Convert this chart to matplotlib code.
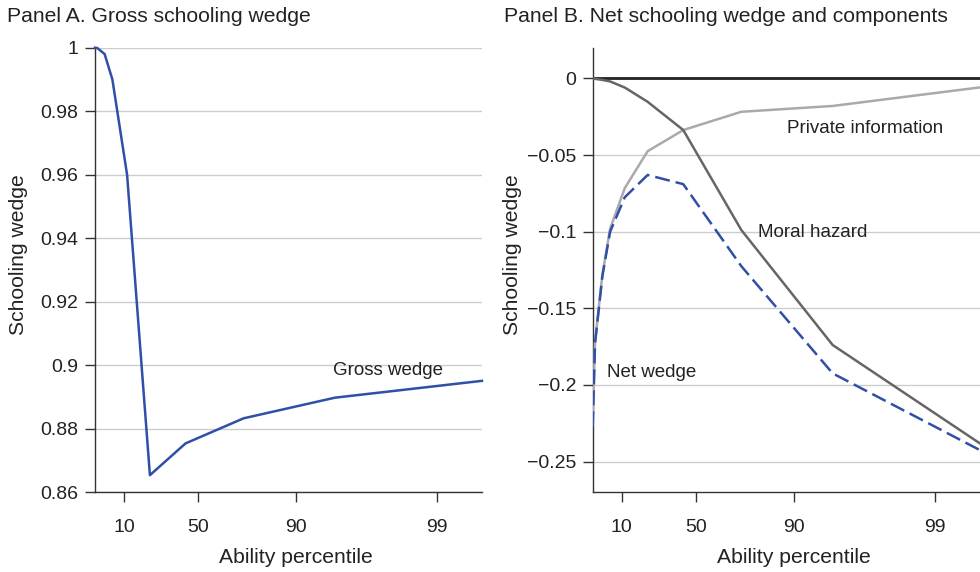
import matplotlib.pyplot as plt

plt.rcParams['font.family'] = ['Liberation Sans', 'DejaVu Sans']
plt.rcParams['font.size'] = 14

# ability grid (position along the ability axis, 0 = lowest, 1 = highest)
ability = [0, 0.006, 0.025, 0.045, 0.083, 0.142, 0.234, 0.384, 0.62, 1.0]
pct_ticks = [0.075, 0.266, 0.519, 0.884]
pct_labels = ['10', '50', '90', '99']

gross = [1.0, 0.9999, 0.998, 0.990, 0.960, 0.8654, 0.8754, 0.8833, 0.8898, 0.8951]

moral_hazard = [0, -0.0003, -0.001, -0.002, -0.006, -0.0153, -0.0337, -0.0989, -0.1739, -0.238]
private_info = [-0.226, -0.172, -0.128, -0.098, -0.0715, -0.0475, -0.0337, -0.0218, -0.018, -0.0059]
net_wedge = [-0.227, -0.173, -0.129, -0.100, -0.0775, -0.063, -0.069, -0.1225, -0.1924, -0.2424]

blue = '#2f4fa8'
dark = '#666666'
light = '#aaaaaa'
grid_c = '#cccccc'
spine_c = '#333333'
txt = '#222222'

fig = plt.figure(figsize=(9.8, 5.72), dpi=100)
axA = fig.add_axes([0.0969, 0.1393, 0.3949, 0.7773])
axB = fig.add_axes([0.6048, 0.1393, 0.3949, 0.7773])


def style(ax):
    for s in ['top', 'right']:
        ax.spines[s].set_visible(False)
    for s in ['left', 'bottom']:
        ax.spines[s].set_color(spine_c)
        ax.spines[s].set_linewidth(1.0)
    ax.tick_params(direction='out', length=7, width=1.0, color=spine_c,
                   labelcolor=txt)
    ax.tick_params(axis='x', pad=12)
    ax.tick_params(axis='y', pad=5)
    ax.set_xlim(0, 1)
    ax.set_xticks(pct_ticks)
    ax.set_xticklabels(pct_labels)
    ax.grid(axis='y', color=grid_c, linewidth=1.0)
    ax.set_axisbelow(True)


# Panel A
style(axA)
axA.plot(ability, gross, color=blue, lw=1.8, clip_on=False, zorder=3)
axA.set_ylim(0.86, 1.0)
axA.set_yticks([0.86, 0.88, 0.9, 0.92, 0.94, 0.96, 0.98, 1.0])
axA.set_yticklabels(['0.86', '0.88', '0.9', '0.92', '0.94', '0.96', '0.98', '1'])
axA.text(0.615, 0.8985, 'Gross wedge', va='center', ha='left', color=txt,
         fontsize=13.5)

# Panel B
style(axB)
axB.axhline(0, color=txt, lw=2.0, zorder=2)
axB.plot(ability, private_info, color=light, lw=1.8, zorder=3)
axB.plot(ability, moral_hazard, color=dark, lw=1.8, zorder=3)
axB.plot(ability, net_wedge, color=blue, lw=1.8, ls=(0, (6, 2.4)), zorder=4)
axB.set_ylim(-0.27, 0.02)
axB.set_yticks([-0.25, -0.2, -0.15, -0.1, -0.05, 0])
axB.set_yticklabels(['\u22120.25', '\u22120.2', '\u22120.15', '\u22120.1', '\u22120.05', '0'])
axB.text(0.501, -0.033, 'Private information', va='center', ha='left', color=txt,
         fontsize=13.5)
axB.text(0.427, -0.1008, 'Moral hazard', va='center', ha='left', color=txt,
         fontsize=13.5)
axB.text(0.036, -0.192, 'Net wedge', va='center', ha='left', color=txt,
         fontsize=13.5)

# titles and axis labels
fig.text(0.007, 0.972, 'Panel A. Gross schooling wedge', ha='left', va='center',
         fontsize=15.2, color=txt)
fig.text(0.514, 0.972, 'Panel B. Net schooling wedge and components', ha='left',
         va='center', fontsize=15.2, color=txt)
fig.text(0.019, 0.555, 'Schooling wedge', rotation=90, ha='center', va='center',
         fontsize=15.2, color=txt)
fig.text(0.523, 0.555, 'Schooling wedge', rotation=90, ha='center', va='center',
         fontsize=15.2, color=txt)
fig.text(0.302, 0.026, 'Ability percentile', ha='center', va='center',
         fontsize=15.2, color=txt)
fig.text(0.810, 0.026, 'Ability percentile', ha='center', va='center',
         fontsize=15.2, color=txt)

fig.savefig('out.png', dpi=100)
